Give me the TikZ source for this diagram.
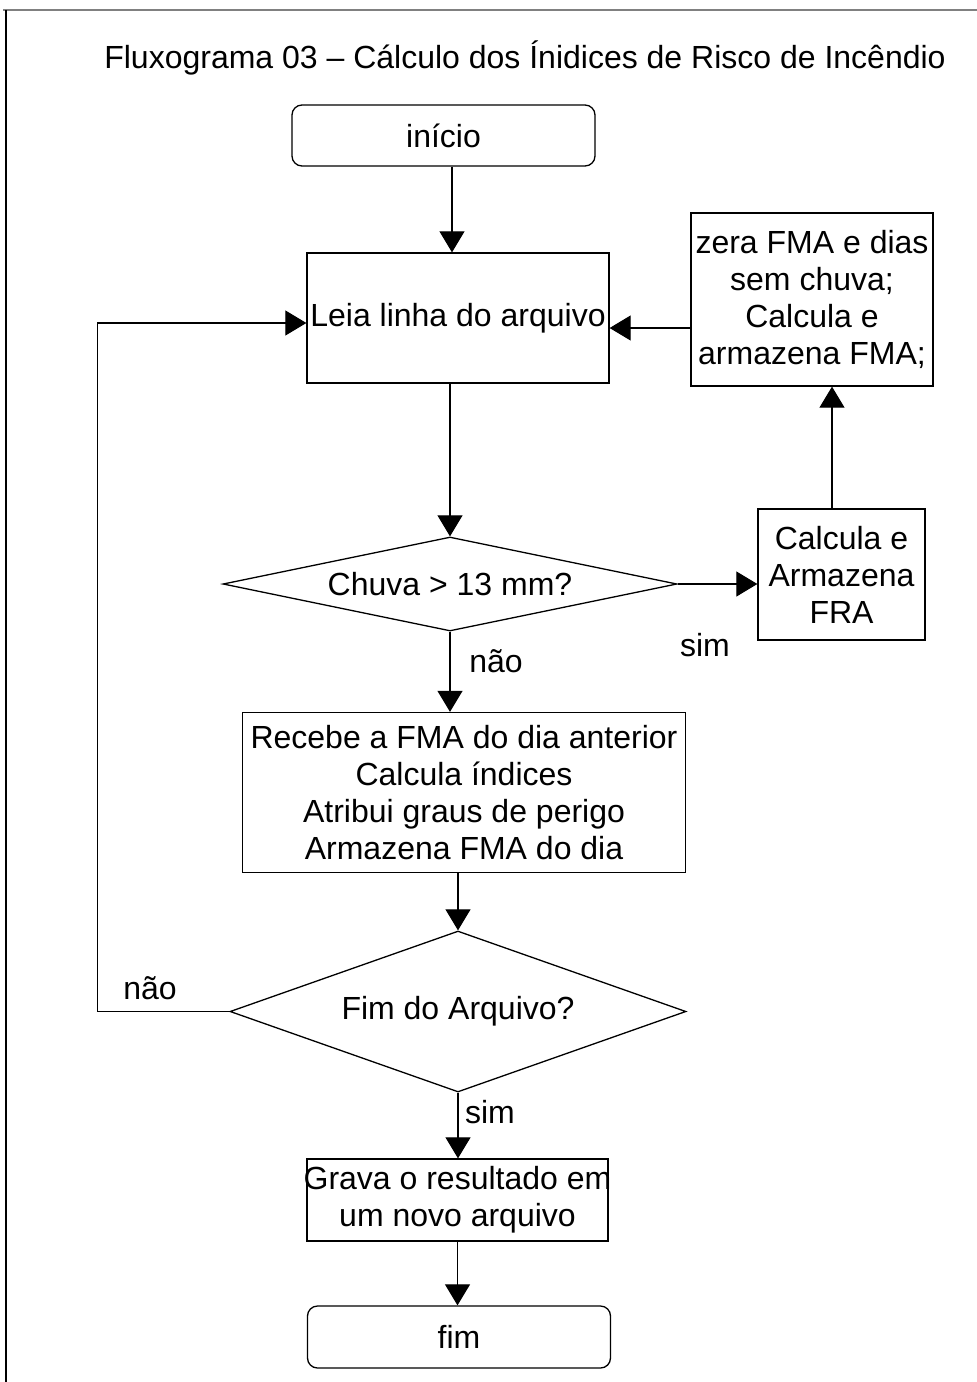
\documentclass[tikz,border=0pt]{standalone}
\usepackage{fontspec}
\setmainfont{Liberation Sans}
\usetikzlibrary{arrows.meta,shapes.geometric}
\begin{document}
\begin{tikzpicture}[x=1pt,y=-1pt,
  every node/.style={font=\fontsize{32}{37}\selectfont, inner sep=0pt},
  procbox/.style={draw, line width=1.3pt, rectangle, align=center},
  termbox/.style={draw, line width=1.3pt, rectangle, rounded corners=10pt, align=center},
  decbox/.style={draw, line width=1.3pt, diamond, align=center},
  arr/.style={line width=1.1pt, -{Triangle[length=21pt,width=25pt]}},
  lbl/.style={anchor=center}]
\useasboundingbox (0,0) rectangle (977,1382);
\draw[line width=1.5pt, gray] (3,10) -- (977,10);
\draw[line width=1.5pt] (6,10) -- (6,1382);

\node (title) at (525,58) {Fluxograma 03 – Cálculo dos Ínidices de Risco de Incêndio};

\node[termbox, minimum width=303pt, minimum height=61pt] (inicio) at (443.5,135.5) {início};
\node[procbox, minimum width=302pt, minimum height=130pt] (leia) at (458,318) {\makebox[296pt]{Leia linha do arquivo}};
\node[procbox, minimum width=242pt, minimum height=173pt] (zera) at (812,299.5) {\makebox[236pt]{zera FMA e dias}\\sem chuva;\\Calcula e\\armazena FMA;};
\node[decbox, minimum width=454pt, minimum height=94pt, shape aspect=4.83] (chuva) at (450,584) {Chuva > 13 mm?};
\node[procbox, minimum width=167pt, minimum height=131pt] (fra) at (841.5,574.5) {Calcula e\\Armazena\\FRA};
\node[procbox, minimum width=443pt, minimum height=160pt] (recebe) at (464,792.5) {\makebox[437pt]{Recebe a FMA do dia anterior}\\Calcula índices\\Atribui graus de perigo\\Armazena FMA do dia};
\node[decbox, minimum width=456pt, minimum height=161pt, shape aspect=2.83] (fimarq) at (458,1011.5) {Fim do Arquivo?};
\node[procbox, minimum width=301pt, minimum height=82pt] (grava) at (457.5,1200) {\makebox[295pt]{Grava o resultado em}\\um novo arquivo};
\node[termbox, minimum width=303pt, minimum height=62pt] (fimnode) at (459,1337) {fim};

% connectors
\draw[arr] ([xshift=-6pt]leia.north |- inicio.south) -- ([xshift=-6pt]leia.north);
\draw[arr] (chuva.north |- leia.south) -- (chuva.north);
\draw[arr] (chuva.south) -- (chuva.south |- recebe.north);
\draw[arr] (chuva.east) -- (chuva.east -| fra.west);
\draw[arr] ([xshift=-9.5pt]fra.north) -- ([xshift=-9.5pt]fra.north |- zera.south);
\draw[arr] ([yshift=-28.5pt]zera.west) -- ([yshift=-28.5pt]zera.west -| leia.east);
\draw[arr] (fimarq.north |- recebe.south) -- (fimarq.north);
\draw[arr] (fimarq.west) -- ++(-132,0) |- ([yshift=-5pt]leia.west);
\draw[arr] (fimarq.south) -- (fimarq.south |- grava.north);
\draw[arr] (grava.south) -- (grava.south |- fimnode.north);

% labels
\node[lbl] (lnao1) at (496,661) {não};
\node[lbl] (lsim1) at (705,645) {sim};
\node[lbl] (lnao2) at (150,988) {não};
\node[lbl] (lsim2) at (490,1112) {sim};
\end{tikzpicture}
\end{document}
